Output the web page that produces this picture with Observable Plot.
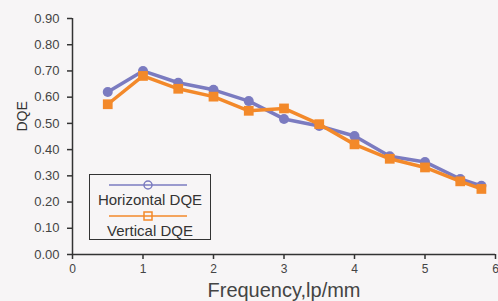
<!DOCTYPE html>
<html>
<head>
<meta charset="utf-8">
<script src="https://cdn.jsdelivr.net/npm/d3@7"></script>
<script src="https://cdn.jsdelivr.net/npm/@observablehq/plot@0.6"></script>
<style>
  html, body { margin: 0; padding: 0; background: #f7f5f6; }
  #wrap { position: relative; width: 498px; height: 301px; font-family: "Liberation Sans", Arial, sans-serif; }
  #legend { position: absolute; left: 89px; top: 174px; width: 122px; height: 66px; border: 1.5px solid #333; box-sizing: border-box; background: #f7f5f6; }
  .li { position: absolute; left: 0; width: 100%; text-align: center; font-size: 15px; color: #333; }
  .sym { position: absolute; left: 17px; }
</style>
</head>
<body>
<div id="wrap"></div>
<script>
const frequency = [0.5, 1, 1.5, 2, 2.5, 3, 3.5, 4, 4.5, 5, 5.5, 5.8];
const horizontalDQE = [0.62, 0.70, 0.655, 0.628, 0.585, 0.517, 0.49, 0.452, 0.375, 0.353, 0.288, 0.262];
const verticalDQE   = [0.573, 0.681, 0.632, 0.602, 0.548, 0.557, 0.497, 0.42, 0.365, 0.332, 0.279, 0.25];
const xTicks = [0, 1, 2, 3, 4, 5, 6];
const yTicks = [0, 0.1, 0.2, 0.3, 0.4, 0.5, 0.6, 0.7, 0.8, 0.9];
const seriesNames = ["Horizontal DQE", "Vertical DQE"];
const seriesColors = ["#7b7bc0", "#f3892a"];

const hData = frequency.map((f, i) => ({f, v: horizontalDQE[i]}));
const vData = frequency.map((f, i) => ({f, v: verticalDQE[i]}));

const plot = Plot.plot({
  width: 498,
  height: 301,
  marginLeft: 72,
  marginRight: 3,
  marginTop: 18,
  marginBottom: 47,
  style: {background: "#f7f5f6", fontFamily: "Liberation Sans, Arial, sans-serif", color: "#333"},
  x: {domain: [0, 6], ticks: xTicks, tickFormat: d3.format("d"), label: null},
  y: {domain: [0, 0.9], ticks: yTicks, tickFormat: d3.format(".2f"), label: null},
  marks: [
    Plot.axisX({ticks: xTicks, tickFormat: d3.format("d"), tickSize: 5, tickPadding: 5, fontSize: 12, stroke: "#333", strokeWidth: 1.5, fill: "#444"}),
    Plot.axisY({ticks: yTicks, tickFormat: d3.format(".2f"), tickSize: 5, tickPadding: 8, fontSize: 13, stroke: "#333", strokeWidth: 1.5, fill: "#444"}),
    Plot.ruleX([0], {stroke: "#333", strokeWidth: 1.5}),
    Plot.ruleY([0], {stroke: "#333", strokeWidth: 1.5}),
    Plot.line(hData, {x: "f", y: "v", stroke: seriesColors[0], strokeWidth: 3.5}),
    Plot.dot(hData, {x: "f", y: "v", fill: seriesColors[0], r: 5, symbol: "circle"}),
    Plot.line(vData, {x: "f", y: "v", stroke: seriesColors[1], strokeWidth: 3.5}),
    Plot.dot(vData, {x: "f", y: "v", fill: seriesColors[1], r: 5.5, symbol: "square"}),
    Plot.text(["Frequency,lp/mm"], {frameAnchor: "bottom", dy: 42, fontSize: 20, fill: "#444"}),
    Plot.text(["DQE"], {frameAnchor: "left", dx: -50, dy: -5, rotate: -90, fontSize: 14, fill: "#333"})
  ]
});
const wrap = document.getElementById("wrap");
wrap.appendChild(plot);

const legend = document.createElement("div");
legend.id = "legend";
legend.innerHTML = `
  <svg class="sym" style="top:3px" width="82" height="14"><line x1="2" x2="80" y1="7" y2="7" stroke="${seriesColors[0]}" stroke-width="1.5"/><circle cx="41" cy="7" r="4" fill="none" stroke="${seriesColors[0]}" stroke-width="1.5"/></svg>
  <div class="li" style="top:16px">${seriesNames[0]}</div>
  <svg class="sym" style="top:34px" width="82" height="14"><line x1="2" x2="80" y1="7" y2="7" stroke="${seriesColors[1]}" stroke-width="1.5"/><rect x="37" y="3" width="8" height="8" fill="none" stroke="${seriesColors[1]}" stroke-width="1.5"/></svg>
  <div class="li" style="top:47px">${seriesNames[1]}</div>`;
wrap.appendChild(legend);
</script>
</body>
</html>
